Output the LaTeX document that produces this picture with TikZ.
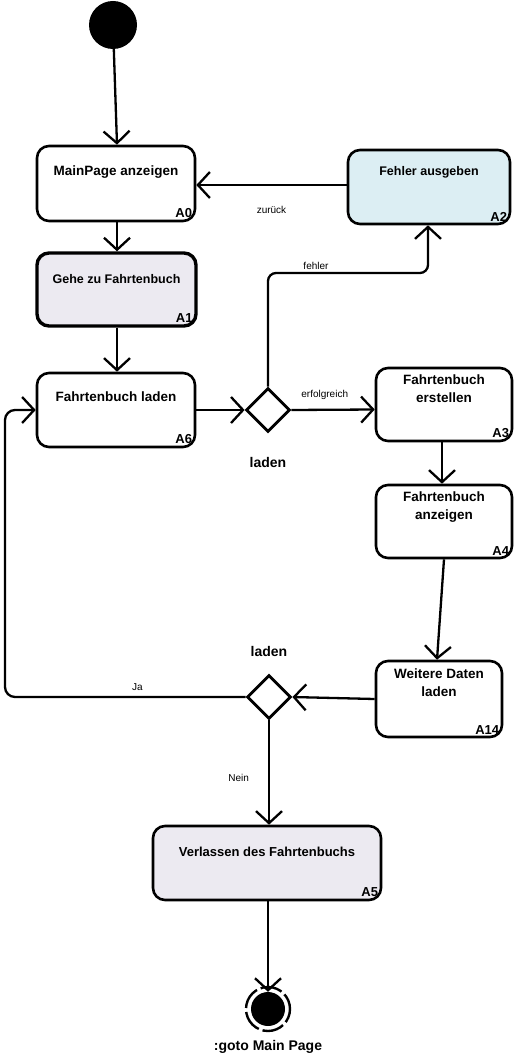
\documentclass[tikz,border=0pt]{standalone}
\usepackage{fontspec}
\setmainfont{Liberation Sans}
\usetikzlibrary{arrows.meta,shapes.geometric}
\definecolor{lav}{HTML}{ECEAF1}
\definecolor{lblue}{HTML}{DCEEF3}
\tikzset{
  abox/.style={draw, line width=2.6pt, rounded corners=12pt, inner sep=0pt},
  ttl/.style={font=\bfseries\fontsize{13.5}{18}\selectfont, align=center, inner sep=0pt},
  tag/.style={font=\bfseries\fontsize{13}{14}\selectfont, inner sep=0pt, anchor=south east},
  lbl/.style={font=\fontsize{10}{12}\selectfont, inner sep=1pt},
  dec/.style={draw, diamond, line width=2.8pt, minimum width=44pt, minimum height=44pt, inner sep=0pt},
  conn/.style={line width=2.3pt, -{Straight Barb[length=12pt,width=26pt,line width=2.3pt]}},
}
\begin{document}
\begin{tikzpicture}[x=1pt,y=-1pt]
\useasboundingbox (0,0) rectangle (517,1064);
% start
\node[circle, fill=black, minimum size=48pt, inner sep=0pt] (start) at (113,25) {};
% boxes
\node[abox, minimum width=158pt, minimum height=75pt] (A0) at (116,183.5) {};
\node[ttl] at ([yshift=-27pt]A0.north) {MainPage anzeigen};
\node[tag] at ([xshift=-4pt,yshift=4pt]A0.south east) {A0};

\node[abox, line width=3.4pt, fill=lav, minimum width=159pt, minimum height=73pt] (A1) at (116.5,289.5) {};
\node[ttl, font=\bfseries\fontsize{12.5}{14}\selectfont] at ([yshift=-28pt]A1.north) {Gehe zu Fahrtenbuch};
\node[tag] at ([xshift=-5pt,yshift=5pt]A1.south east) {A1};

\node[abox, minimum width=158pt, minimum height=74pt] (A6) at (116,410) {};
\node[ttl] at ([yshift=-25pt]A6.north) {Fahrtenbuch laden};
\node[tag] at ([xshift=-4pt,yshift=4pt]A6.south east) {A6};

\node[abox, fill=lblue, minimum width=162pt, minimum height=74pt] (A2) at (429,187) {};
\node[ttl, font=\bfseries\fontsize{12.5}{14}\selectfont] at ([yshift=-24pt]A2.north) {Fehler ausgeben};
\node[tag] at ([xshift=-4pt,yshift=4pt]A2.south east) {A2};

\node[abox, minimum width=136pt, minimum height=73pt] (A3) at (444,404.5) {};
\node[ttl, anchor=north] at ([yshift=-8pt]A3.north) {Fahrtenbuch\\erstellen};
\node[tag] at ([xshift=-4pt,yshift=4pt]A3.south east) {A3};

\node[abox, minimum width=136pt, minimum height=73pt] (A4) at (444,521.5) {};
\node[ttl, anchor=north] at ([yshift=-8pt]A4.north) {Fahrtenbuch\\anzeigen};
\node[tag] at ([xshift=-4pt,yshift=4pt]A4.south east) {A4};

\node[abox, minimum width=126pt, minimum height=76pt] (A14) at (439,699) {};
\node[ttl, anchor=north] at ([yshift=-9pt]A14.north) {Weitere Daten\\laden};
\node[tag] at ([xshift=-4pt,yshift=4pt]A14.south east) {A14};

\node[abox, fill=lav, minimum width=228pt, minimum height=74pt] (A5) at (267,863) {};
\node[ttl, font=\bfseries\fontsize{13}{16}\selectfont] at ([yshift=-27pt]A5.north) {Verlassen des Fahrtenbuchs};
\node[tag] at ([xshift=-4pt,yshift=4pt]A5.south east) {A5};

% decisions
\node[dec] (D1) at (268,410) {};
\node[ttl, font=\bfseries\fontsize{14}{16}\selectfont] (D1l) at (268,462) {laden};
\node[dec] (D2) at (269,697) {};
\node[ttl, font=\bfseries\fontsize{14}{16}\selectfont] (D2l) at (269,651) {laden};

% end
\node[circle, fill=black, minimum size=34pt, inner sep=0pt] (endc) at (268,1009) {};
\draw[line width=2.4pt, dash pattern=on 22pt off 4pt, dash phase=6pt] (endc.center) circle (22pt);
\node[ttl, font=\bfseries\fontsize{14}{16}\selectfont] (endl) at (268,1047) {:goto Main Page};

% connectors
\draw[conn] (start) -- (A0.north -| 117,0);
\draw[conn] (A0.south -| 117,0) -- (A1.north -| 117,0);
\draw[conn] (A1.south -| 117,0) -- (A6.north -| 117,0);
\draw[conn] (A6.east) -- (D1.west);
\draw[conn] (D1.east) -- ([yshift=-5pt]A3.west) node[lbl, pos=0.4, above=8pt] {erfolgreich};
\draw[conn, rounded corners=8pt] (D1.north) -- (268,273) -- (428,273) node[lbl, pos=0.3, above=1pt] {fehler} -- (A2.south -| 428,0);
\draw[conn] (A2.west |- 0,185) -- (A0.east |- 0,185) node[lbl, pos=0.5, below=19pt] {zurück};
\draw[conn] (A3.south -| 442,0) -- (A4.north -| 442,0);
\draw[conn] (A4.south -| 444,0) -- (A14.north -| 437,0);
\draw[conn] (A14.west) -- (D2.east);
\draw[conn, rounded corners=10pt] (D2.west) -- (5,697) node[lbl, pos=0.45, above=4pt] {Ja} -- (5,410) -- (A6.west);
\draw[conn] (D2.south) -- (A5.north -| 269,0) node[lbl, pos=0.55, left=18pt] {Nein};
\draw[conn] (A5.south -| 268,0) -- (endc.north);
\end{tikzpicture}
\end{document}
